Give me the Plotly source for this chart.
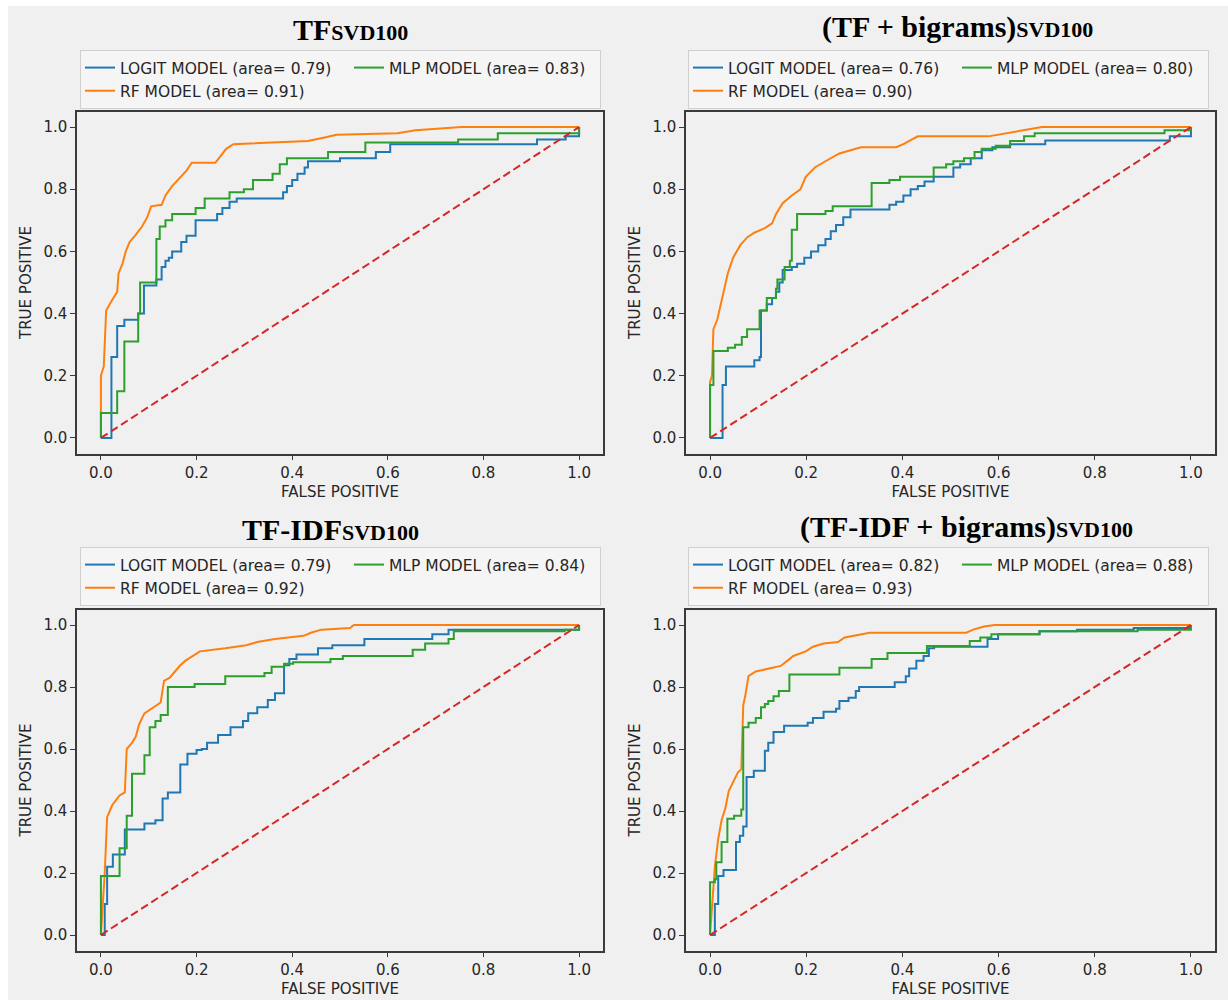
import plotly.graph_objects as go

W, H = 1228, 1000

# ---------------- data ----------------
panel_titles = ["TF", "(TF + bigrams)", "TF-IDF", "(TF-IDF + bigrams)"]
title_sub = "SVD100"

logit_auc = [0.79, 0.76, 0.79, 0.82]
rf_auc = [0.91, 0.90, 0.92, 0.93]
mlp_auc = [0.83, 0.80, 0.84, 0.88]

tick_vals = [0.0, 0.2, 0.4, 0.6, 0.8, 1.0]
diag_x = [0, 1]
diag_y = [0, 1]

# TF SVD100
tf_logit_fpr = [0, 0.022, 0.022, 0.034, 0.049, 0.078, 0.09, 0.116, 0.127, 0.135, 0.142, 0.149, 0.168, 0.179, 0.198, 0.243, 0.254, 0.269, 0.284, 0.381, 0.389, 0.4, 0.411, 0.426, 0.433, 0.5, 0.575, 0.605, 0.912, 0.972, 1]
tf_logit_tpr = [0, 0.02, 0.26, 0.36, 0.38, 0.40, 0.49, 0.51, 0.55, 0.57, 0.58, 0.60, 0.63, 0.65, 0.70, 0.72, 0.74, 0.76, 0.77, 0.79, 0.81, 0.83, 0.85, 0.87, 0.89, 0.90, 0.92, 0.945, 0.96, 0.97, 1]
tf_rf_fpr = [0, 0, 0.006, 0.011, 0.022, 0.034, 0.037, 0.045, 0.052, 0.06, 0.071, 0.086, 0.097, 0.105, 0.127, 0.135, 0.149, 0.168, 0.179, 0.19, 0.239, 0.247, 0.262, 0.277, 0.374, 0.433, 0.463, 0.493, 0.62, 0.658, 0.755, 1]
tf_rf_tpr = [0, 0.2, 0.23, 0.41, 0.44, 0.47, 0.53, 0.56, 0.6, 0.63, 0.65, 0.68, 0.71, 0.745, 0.75, 0.78, 0.81, 0.84, 0.86, 0.885, 0.885, 0.9, 0.93, 0.945, 0.95, 0.955, 0.965, 0.975, 0.98, 0.99, 1.0, 1]
tf_mlp_fpr = [0, 0, 0.034, 0.049, 0.078, 0.082, 0.116, 0.123, 0.135, 0.149, 0.198, 0.217, 0.269, 0.299, 0.318, 0.359, 0.374, 0.389, 0.475, 0.553, 0.747, 0.83, 1]
tf_mlp_tpr = [0, 0.08, 0.15, 0.31, 0.40, 0.50, 0.64, 0.68, 0.70, 0.72, 0.74, 0.77, 0.79, 0.80, 0.83, 0.85, 0.88, 0.90, 0.92, 0.95, 0.96, 0.98, 1]

# (TF + bigrams) SVD100
tfbi_logit_fpr = [0, 0.026, 0.026, 0.033, 0.092, 0.103, 0.106, 0.118, 0.129, 0.137, 0.144, 0.151, 0.17, 0.181, 0.196, 0.21, 0.225, 0.24, 0.251, 0.262, 0.277, 0.292, 0.373, 0.387, 0.402, 0.417, 0.432, 0.446, 0.465, 0.506, 0.52, 0.542, 0.565, 0.587, 0.624, 0.697, 0.956, 1]
tfbi_logit_tpr = [0, 0.015, 0.17, 0.23, 0.25, 0.26, 0.41, 0.43, 0.45, 0.47, 0.5, 0.54, 0.55, 0.56, 0.58, 0.6, 0.62, 0.64, 0.665, 0.685, 0.71, 0.735, 0.75, 0.76, 0.78, 0.8, 0.81, 0.825, 0.84, 0.87, 0.88, 0.9, 0.925, 0.935, 0.945, 0.957, 0.97, 1]
tfbi_rf_fpr = [0, 0, 0.004, 0.007, 0.015, 0.026, 0.037, 0.048, 0.063, 0.077, 0.092, 0.114, 0.129, 0.137, 0.151, 0.17, 0.188, 0.199, 0.218, 0.24, 0.269, 0.314, 0.387, 0.402, 0.432, 0.579, 0.616, 0.69, 1]
tfbi_rf_tpr = [0, 0.18, 0.2, 0.35, 0.38, 0.45, 0.53, 0.58, 0.62, 0.645, 0.66, 0.675, 0.69, 0.72, 0.755, 0.78, 0.80, 0.84, 0.87, 0.89, 0.915, 0.935, 0.935, 0.945, 0.97, 0.97, 0.98, 1.0, 1]
tfbi_mlp_fpr = [0, 0, 0.007, 0.037, 0.052, 0.066, 0.077, 0.103, 0.118, 0.137, 0.14, 0.155, 0.166, 0.17, 0.181, 0.24, 0.255, 0.336, 0.373, 0.395, 0.465, 0.491, 0.506, 0.528, 0.55, 0.565, 0.594, 0.624, 0.653, 0.675, 0.945, 1]
tfbi_mlp_tpr = [0, 0.17, 0.28, 0.29, 0.30, 0.325, 0.35, 0.41, 0.45, 0.48, 0.51, 0.55, 0.57, 0.67, 0.72, 0.73, 0.745, 0.82, 0.83, 0.84, 0.87, 0.88, 0.89, 0.9, 0.92, 0.93, 0.94, 0.955, 0.97, 0.98, 0.99, 1]

# TF-IDF SVD100
tfidf_logit_fpr = [0, 0.008, 0.013, 0.025, 0.05, 0.091, 0.114, 0.129, 0.14, 0.166, 0.181, 0.2, 0.211, 0.222, 0.245, 0.271, 0.297, 0.308, 0.327, 0.349, 0.364, 0.383, 0.394, 0.409, 0.454, 0.484, 0.551, 0.693, 0.727, 1]
tfidf_logit_tpr = [0, 0.1, 0.22, 0.26, 0.34, 0.36, 0.37, 0.44, 0.46, 0.55, 0.585, 0.597, 0.6, 0.62, 0.645, 0.67, 0.69, 0.715, 0.735, 0.758, 0.78, 0.87, 0.89, 0.905, 0.925, 0.935, 0.955, 0.97, 0.985, 1]
tfidf_rf_fpr = [0, 0.008, 0.013, 0.024, 0.039, 0.05, 0.054, 0.065, 0.073, 0.08, 0.091, 0.11, 0.125, 0.132, 0.144, 0.155, 0.166, 0.177, 0.192, 0.207, 0.26, 0.304, 0.327, 0.364, 0.424, 0.439, 0.461, 0.521, 0.529, 1]
tfidf_rf_tpr = [0, 0.2, 0.38, 0.42, 0.45, 0.46, 0.60, 0.62, 0.64, 0.68, 0.715, 0.735, 0.75, 0.82, 0.83, 0.85, 0.87, 0.885, 0.90, 0.915, 0.925, 0.935, 0.945, 0.955, 0.965, 0.975, 0.985, 0.99, 1.0, 1]
tfidf_mlp_fpr = [0, 0, 0.039, 0.054, 0.065, 0.091, 0.102, 0.114, 0.125, 0.14, 0.196, 0.26, 0.342, 0.357, 0.383, 0.402, 0.48, 0.506, 0.652, 0.678, 0.727, 0.738, 0.97, 1]
tfidf_mlp_tpr = [0, 0.19, 0.28, 0.385, 0.52, 0.58, 0.67, 0.69, 0.71, 0.80, 0.81, 0.835, 0.845, 0.865, 0.875, 0.88, 0.89, 0.90, 0.92, 0.94, 0.955, 0.98, 0.985, 1]

# (TF-IDF + bigrams) SVD100
tfidfbi_logit_fpr = [0, 0.01, 0.017, 0.028, 0.054, 0.062, 0.069, 0.076, 0.091, 0.114, 0.121, 0.132, 0.154, 0.203, 0.214, 0.236, 0.262, 0.269, 0.288, 0.303, 0.31, 0.384, 0.407, 0.414, 0.429, 0.444, 0.455, 0.466, 0.577, 0.599, 0.685, 0.763, 0.881, 1]
tfidfbi_logit_tpr = [0, 0.1, 0.19, 0.21, 0.30, 0.32, 0.35, 0.51, 0.53, 0.594, 0.62, 0.655, 0.675, 0.685, 0.70, 0.72, 0.73, 0.755, 0.765, 0.787, 0.80, 0.815, 0.835, 0.86, 0.885, 0.90, 0.925, 0.93, 0.955, 0.97, 0.98, 0.985, 0.99, 1]
tfidfbi_rf_fpr = [0, 0.01, 0.017, 0.024, 0.032, 0.039, 0.047, 0.058, 0.065, 0.069, 0.073, 0.08, 0.095, 0.125, 0.147, 0.165, 0.173, 0.199, 0.214, 0.236, 0.266, 0.28, 0.31, 0.332, 0.533, 0.547, 0.57, 0.592, 1]
tfidfbi_rf_tpr = [0, 0.22, 0.31, 0.37, 0.41, 0.465, 0.49, 0.525, 0.535, 0.74, 0.77, 0.835, 0.85, 0.86, 0.868, 0.89, 0.90, 0.915, 0.93, 0.94, 0.945, 0.96, 0.97, 0.975, 0.975, 0.985, 0.995, 1.0, 1]
tfidfbi_mlp_fpr = [0, 0, 0.01, 0.013, 0.024, 0.036, 0.05, 0.065, 0.069, 0.08, 0.095, 0.106, 0.114, 0.121, 0.132, 0.143, 0.165, 0.269, 0.336, 0.369, 0.451, 0.54, 0.562, 0.585, 0.685, 0.889, 1]
tfidfbi_mlp_tpr = [0, 0.17, 0.18, 0.235, 0.30, 0.375, 0.385, 0.405, 0.67, 0.685, 0.70, 0.735, 0.745, 0.755, 0.77, 0.787, 0.84, 0.862, 0.89, 0.91, 0.932, 0.948, 0.96, 0.97, 0.98, 0.985, 1]

curves = [
    ((tf_logit_fpr, tf_logit_tpr), (tf_rf_fpr, tf_rf_tpr), (tf_mlp_fpr, tf_mlp_tpr)),
    ((tfbi_logit_fpr, tfbi_logit_tpr), (tfbi_rf_fpr, tfbi_rf_tpr), (tfbi_mlp_fpr, tfbi_mlp_tpr)),
    ((tfidf_logit_fpr, tfidf_logit_tpr), (tfidf_rf_fpr, tfidf_rf_tpr), (tfidf_mlp_fpr, tfidf_mlp_tpr)),
    ((tfidfbi_logit_fpr, tfidfbi_logit_tpr), (tfidfbi_rf_fpr, tfidfbi_rf_tpr), (tfidfbi_mlp_fpr, tfidfbi_mlp_tpr)),
]

# ---------------- style / layout ----------------
BLUE, ORANGE, GREEN, RED = "#1f77b4", "#ff7f0e", "#2ca02c", "#d62728"
BG = "#f0f0f0"
TXT = "#262626"
FRAME = "#3a3a3a"
SANS = "DejaVu Sans"
SERIF = "Liberation Serif"

# pixel boxes of the four plot frames: (left, right, top, bottom)
frames = [(77, 603, 111.5, 453.5), (686, 1215, 111.5, 453.5),
          (77, 603, 609.5, 950.5), (686, 1215, 609.5, 950.5)]
legend_pos = [(80, 50), (688, 50), (80, 547), (688, 547)]
title_pos = [(350, 29), (957, 27), (330, 529), (966, 527)]

fig = go.Figure()
legend_names = ["legend", "legend2", "legend3", "legend4"]
layout = dict()

for i in range(4):
    sfx = "" if i == 0 else str(i + 1)
    xa, ya = "x" + sfx, "y" + sfx
    leg = legend_names[i]
    (lx, ly), (rx, ry), (mx, my) = curves[i]
    fig.add_trace(go.Scatter(x=lx, y=ly, mode="lines", xaxis=xa, yaxis=ya,
                             line=dict(color=BLUE, width=2, shape="hv"),
                             name=f"LOGIT MODEL (area= {logit_auc[i]:.2f})",
                             legend=leg, legendgroup=f"a{i}", legendwidth=224))
    fig.add_trace(go.Scatter(x=rx, y=ry, mode="lines", xaxis=xa, yaxis=ya,
                             line=dict(color=ORANGE, width=2),
                             name=f"RF MODEL (area= {rf_auc[i]:.2f})",
                             legend=leg, legendgroup=f"a{i}", legendwidth=224))
    fig.add_trace(go.Scatter(x=mx, y=my, mode="lines", xaxis=xa, yaxis=ya,
                             line=dict(color=GREEN, width=2, shape="hv"),
                             name=f"MLP MODEL (area= {mlp_auc[i]:.2f})",
                             legend=leg, legendgroup=f"b{i}", legendwidth=206))
    fig.add_trace(go.Scatter(x=diag_x, y=diag_y, mode="lines", xaxis=xa, yaxis=ya,
                             line=dict(color=RED, width=2, dash="8px,4px"),
                             showlegend=False))

    l, r, t, b = frames[i]
    common = dict(range=[-0.05, 1.05], showgrid=False, zeroline=False,
                  showline=True, mirror=True, linecolor=FRAME, linewidth=1.5,
                  ticks="outside", ticklen=5, tickwidth=1.3, tickcolor=FRAME,
                  tickvals=tick_vals, tickformat=".1f",
                  tickfont=dict(family=SANS, size=15, color=TXT),
                  automargin=False, fixedrange=True)
    layout["xaxis" + sfx] = dict(common, domain=[l / W, r / W], anchor=ya,
                                 title=dict(text="FALSE POSITIVE", standoff=5,
                                            font=dict(family=SANS, size=15, color=TXT)))
    layout["yaxis" + sfx] = dict(common, domain=[1 - b / H, 1 - t / H], anchor=xa,
                                 title=dict(text="TRUE POSITIVE", standoff=8,
                                            font=dict(family=SANS, size=15, color=TXT)))
    px, py = legend_pos[i]
    layout[leg] = dict(orientation="h", xref="paper", yref="paper",
                       x=px / W, y=1 - py / H, xanchor="left", yanchor="top",
                       bgcolor="#f5f5f5", bordercolor="#cfcfcf", borderwidth=1,
                       font=dict(family=SANS, size=15.5, color=TXT),
                       traceorder="grouped", tracegroupgap=0, itemwidth=30)

annotations = []
for i in range(4):
    tx, ty = title_pos[i]
    annotations.append(dict(
        text=f"<b>{panel_titles[i]}<span style='font-size:22px'>{title_sub}</span></b>",
        x=tx / W, y=1 - ty / H, xref="paper", yref="paper",
        xanchor="center", yanchor="middle", showarrow=False,
        font=dict(family=SERIF, size=30, color="#000000")))

shapes = [
    dict(type="rect", xref="paper", yref="paper", x0=0, x1=8 / W, y0=0, y1=1,
         fillcolor="#ffffff", line=dict(width=0), layer="below"),
    dict(type="rect", xref="paper", yref="paper", x0=0, x1=1, y0=1 - 6 / H, y1=1,
         fillcolor="#ffffff", line=dict(width=0), layer="below"),
]

fig.update_layout(
    template="none",
    width=W, height=H,
    margin=dict(l=0, r=0, t=0, b=0, pad=0),
    paper_bgcolor=BG, plot_bgcolor=BG,
    showlegend=True,
    annotations=annotations,
    shapes=shapes,
    **layout,
)

fig.write_html("out.html")
